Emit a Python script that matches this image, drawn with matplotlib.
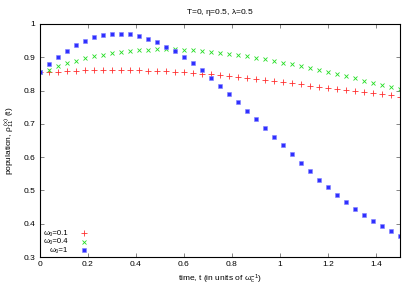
import numpy as np
import matplotlib
matplotlib.use("Agg")
import matplotlib.pyplot as plt

t = np.arange(41) * 0.0375

red = [0.855, 0.855, 0.856, 0.858, 0.860, 0.862, 0.862, 0.863, 0.863, 0.862,
       0.862, 0.861, 0.860, 0.859, 0.858, 0.856, 0.855, 0.853, 0.851, 0.849,
       0.847, 0.845, 0.842, 0.839, 0.836, 0.833, 0.830, 0.827, 0.823, 0.819,
       0.815, 0.812, 0.809, 0.806, 0.802, 0.799, 0.795, 0.792, 0.789, 0.786,
       0.781]
green = [0.855, 0.861, 0.873, 0.882, 0.890, 0.897, 0.903, 0.908, 0.912, 0.916,
         0.919, 0.922, 0.923, 0.924, 0.924, 0.924, 0.923, 0.921, 0.919, 0.916,
         0.913, 0.911, 0.907, 0.903, 0.899, 0.894, 0.890, 0.884, 0.879, 0.873,
         0.867, 0.861, 0.855, 0.849, 0.843, 0.837, 0.830, 0.824, 0.818, 0.811,
         0.804]
blue = [0.855, 0.879, 0.902, 0.920, 0.937, 0.950, 0.960, 0.966, 0.971, 0.971,
        0.969, 0.964, 0.956, 0.946, 0.932, 0.918, 0.901, 0.882, 0.861, 0.838,
        0.815, 0.791, 0.766, 0.740, 0.714, 0.687, 0.661, 0.635, 0.608, 0.582,
        0.557, 0.532, 0.509, 0.486, 0.464, 0.445, 0.426, 0.409, 0.392, 0.377,
        0.364]

labels = ["ω\u2080=0.1", "ω\u2080=0.4", "ω\u2080=1"]
xticks = [0, 0.2, 0.4, 0.6, 0.8, 1.0, 1.2, 1.4]
xticklabels = ["0", "0.2", "0.4", "0.6", "0.8", "1", "1.2", "1.4"]
yticks = [0.3, 0.4, 0.5, 0.6, 0.7, 0.8, 0.9, 1.0]
yticklabels = ["0.3", "0.4", "0.5", "0.6", "0.7", "0.8", "0.9", "1"]

plt.rcParams['font.family'] = ['Liberation Sans', 'DejaVu Sans']
plt.rcParams['mathtext.fontset'] = 'custom'
plt.rcParams['mathtext.rm'] = 'Liberation Sans'
plt.rcParams['mathtext.it'] = 'Liberation Sans'
plt.rcParams['mathtext.default'] = 'rm'
fs = 6

fig = plt.figure(figsize=(4.15, 2.91), dpi=100)
ax = fig.add_axes([39.7/415, 1-257/291, (400-39.7)/415, (257-24)/291])

red_kw = dict(linestyle='none', marker='+', color='#ff3030', ms=4, mew=0.6)
green_kw = dict(linestyle='none', marker='x', color='#22dd22', ms=3.2, mew=0.6)
blue_kw1 = dict(linestyle='none', marker='s', color='#3030ff', ms=2.3, mew=0.4,
                markeredgecolor='#8080ff')
ax.plot(t, red, **red_kw)
ax.plot(t, green, **green_kw)
ax.plot(t, blue, **blue_kw1)

ax.set_xlim(0, 1.5)
ax.set_ylim(0.3, 1.0)
ax.set_xticks(xticks)
ax.set_xticklabels(xticklabels, fontsize=fs)
ax.set_yticks(yticks)
ax.set_yticklabels(yticklabels, fontsize=fs)
ax.tick_params(direction='in', length=3, width=0.5, top=True, right=True, pad=3,
               color='#555555')
for s in ax.spines.values():
    s.set_linewidth(0.8)

ax.set_title(r"T=0, $\eta$=0.5, $\lambda$=0.5", fontsize=fs, pad=7)
ax.set_xlabel(r"time, t (in units of $\omega_c^{-1}$)", fontsize=fs, labelpad=3)
ax.set_ylabel(r"population, $\rho_{11}^{\ (x)}$ (t)", fontsize=fs, labelpad=5)

# gnuplot-style key in lower left
key_y = [0.371, 0.346, 0.321]
for lab, yv in zip(labels, key_y):
    ax.text(0.118, yv, lab, fontsize=5.6, ha='right', va='center')
ax.plot([0.184], [key_y[0]], **red_kw)
ax.plot([0.184], [key_y[1]], **green_kw)
ax.plot([0.184], [key_y[2]], **blue_kw1)

fig.savefig("out.png", dpi=100)
